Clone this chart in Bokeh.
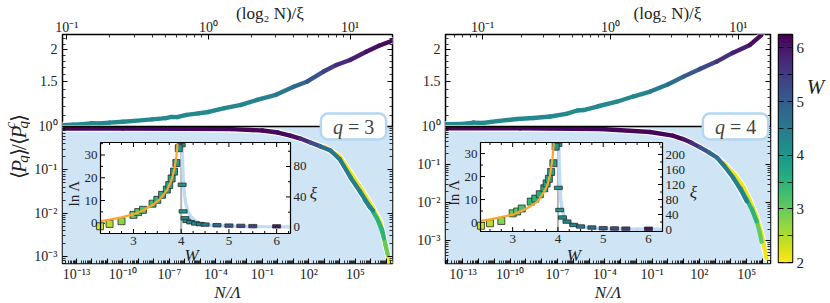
import numpy as np
from bokeh.plotting import figure
from bokeh.models import (Range1d, LinearScale, LogScale, LogAxis, LinearAxis, FixedTicker,
                          CustomJSTickFormatter, Label, ColumnDataSource, LinearColorMapper,
                          BoxAnnotation, Span)
from bokeh.layouts import row
from bokeh.palettes import Viridis256
from bokeh.transform import linear_cmap
from bokeh.embed import file_html
from bokeh.resources import INLINE
from bokeh.core.properties import value

# ======================= DATA =======================
W_MIN, W_MAX = 2.0, 6.25          # colour scale of disorder W
CBAR_TICKS = [2, 3, 4, 5, 6]
W_C = 4.0                          # critical disorder (grey line in insets)

# ---- q = 3 : upper part, x = (log2 N)/xi ----
Q3_TOP_X = [0.093, 0.11, 0.13, 0.15, 0.17, 0.2, 0.25, 0.3, 0.4, 0.5, 0.55, 0.6, 0.7, 0.85,
            1.0, 1.3, 1.7, 2.2, 3.0, 4.0, 5.0, 6.5, 8.0, 10.0, 13.0, 16.0, 20.0]
Q3_TOP_Y = [1.012, 1.016, 1.02, 1.03, 1.028, 1.036, 1.044, 1.052, 1.066, 1.078, 1.09, 1.088, 1.11, 1.125,
            1.14, 1.18, 1.215, 1.27, 1.33, 1.43, 1.5, 1.64, 1.74, 1.82, 1.96, 2.07, 2.17]
Q3_TOP_W = [4.25, 4.25, 4.25, 4.25, 4.25, 4.25, 4.25, 4.25, 4.25, 4.25, 4.25, 4.25, 4.25, 4.25,
            4.25, 4.25, 4.3, 4.35, 4.45, 4.7, 5.0, 5.3, 5.6, 5.8, 6.0, 6.1, 6.2]
# ---- q = 3 : lower part, x = N/Lambda ----
Q3_LOW_X = [1.26e-14, 1e-10, 1e-6, 1e-3, 0.1, 1.0, 6.3, 28.0, 126.0, 560.0, 2.5e3, 1e4, 5e4, 2e5, 8.9e5, 1.4e6]
Q3_LOW_Y = [0.9, 0.895, 0.885, 0.87, 0.809, 0.726, 0.619, 0.528, 0.427, 0.347, 0.279, 0.174,
            0.066, 0.0316, 0.0135, 0.0115]
Q3_LOW_W = [6.2, 6.2, 6.2, 6.2, 6.2, 6.2, 6.15, 6.0, 5.5, 5.0, 4.6, 4.5, 4.45, 4.4, 4.35, 4.3]
Q3_G1_X = [4e5, 9.3e5, 2.5e6, 5.4e6, 7.1e6]
Q3_G1_Y = [0.02, 0.0138, 0.0076, 0.0041, 0.0026]
Q3_G2_X = [3.2e6, 7.1e6, 8.7e6, 1.23e7]
Q3_G2_Y = [0.0063, 0.0026, 0.00186, 0.0011]
Q3_YL_X = [1e3, 1e4, 5.6e4, 2.8e5, 1.26e6, 4e6, 1e7, 1.8e7, 2.5e7]
Q3_YL_Y = [0.339, 0.2, 0.079, 0.033, 0.0138, 0.0063, 0.00158, 0.00065, 0.0004]
EXTRA_W = [3.5, 3.0, 2.1]          # W of the G1, G2, YL curves
# ---- q = 3 : inset ----
Q3_SQ_W = [2.3, 2.5, 2.75, 3.0, 3.1, 3.2, 3.4, 3.5, 3.6, 3.7, 3.75, 3.8, 3.85, 3.9, 3.95]
Q3_SQ_LNL = [-1.3, -0.3, 0.9, 3.7, 4.9, 5.9, 8.6, 10.3, 12.5, 14.8, 16.8, 19.7, 22.7, 26.5, 33.0]
Q3_FIT_L_W = [2.31, 2.5, 2.75, 3.0, 3.2, 3.4, 3.55, 3.7, 3.8, 3.86, 3.9, 3.925]
Q3_FIT_L = [1.0, 1.6, 2.6, 4.0, 5.6, 8.0, 10.5, 14.5, 19.0, 24.0, 29.5, 35.0]
Q3_DASH_W = [4.0, 4.02, 4.04, 4.08, 4.12, 4.2, 4.3, 4.4, 4.5, 4.75, 5.0, 5.25, 5.5, 6.0]
Q3_DASH_XI = [108, 56, 21, 12, 8.5, 6.8, 5.2, 4.3, 3.7, 2.9, 2.4, 2.0, 1.7, 1.4]
Q3_FIT_XI_W = [4.02, 4.03, 4.045, 4.07, 4.1, 4.15, 4.2, 4.3, 4.4, 4.6, 4.8, 5.2, 5.6, 6.29]
Q3_FIT_XI = [110, 85, 60, 42, 30, 20, 14, 8.5, 5.6, 3.2, 2.2, 1.4, 1.0, 0.7]
Q3_XI_TICKS = [0, 40, 80]

# ---- q = 4 : upper part ----
Q4_TOP_X = [0.05, 0.07, 0.085, 0.1, 0.13, 0.186, 0.25, 0.339, 0.45, 0.55, 0.617, 0.8, 1.12, 1.5,
            2.04, 2.8, 3.72, 5.0, 6.76, 9.0, 12.3, 15.1]
Q4_TOP_Y = [1.02, 1.024, 1.036, 1.032, 1.05, 1.07, 1.08, 1.094, 1.12, 1.155, 1.16, 1.2, 1.25, 1.31,
            1.37, 1.46, 1.567, 1.68, 1.794, 1.94, 2.085, 2.28]
Q4_TOP_W = [4.25, 4.25, 4.25, 4.25, 4.25, 4.25, 4.25, 4.25, 4.25, 4.25, 4.25, 4.25, 4.25, 4.25,
            4.35, 4.6, 4.9, 5.2, 5.5, 5.8, 6.0, 6.2]
# ---- q = 4 : lower part ----
Q4_LOW_X = [7.9e-15, 4.5e-10, 5.1e-5, 0.074, 2.0, 9.1, 31.6, 110.0, 400.0, 1.32e3, 4e3, 1.35e4, 4e4, 1.02e5]
Q4_LOW_Y = [0.9, 0.89, 0.86, 0.716, 0.575, 0.468, 0.372, 0.282, 0.209, 0.151, 0.089, 0.0457, 0.0224, 0.0107]
Q4_LOW_W = [6.2, 6.2, 6.2, 6.2, 6.2, 6.15, 5.9, 5.4, 5.0, 4.7, 4.55, 4.45, 4.4, 4.35]
Q4_G1_X = [4e4, 1.02e5, 2.24e5, 4.2e5]
Q4_G1_Y = [0.024, 0.0117, 0.0063, 0.0032]
Q4_G2_X = [2e5, 4.2e5, 6.3e5, 8.7e5]
Q4_G2_Y = [0.0071, 0.0033, 0.00178, 0.00093]
Q4_YL_X = [3.2e3, 2e4, 6.3e4, 1.6e5, 4e5, 8.9e5, 1.8e6]
Q4_YL_Y = [0.112, 0.05, 0.025, 0.0112, 0.0045, 0.0014, 0.00034]
# ---- q = 4 : inset ----
Q4_SQ_W = [2.3, 2.5, 2.75, 3.0, 3.1, 3.2, 3.4, 3.5, 3.6, 3.7, 3.75, 3.8, 3.85, 3.9, 3.95]
Q4_SQ_LNL = [-1.4, -0.3, 0.7, 4.0, 4.8, 6.1, 9.1, 10.4, 12.3, 14.9, 17.0, 19.0, 22.0, 25.8, 33.0]
Q4_FIT_L_W = [2.29, 2.5, 2.75, 3.03, 3.3, 3.55, 3.7, 3.77, 3.83, 3.88, 3.91]
Q4_FIT_L = [0.7, 1.4, 2.4, 3.6, 6.0, 9.1, 13.5, 16.4, 21.0, 28.0, 34.5]
Q4_DASH_W = [4.0, 4.01, 4.04, 4.1, 4.2, 4.35, 4.5, 4.75, 5.0, 5.25, 5.5, 6.0]
Q4_DASH_XI = [226, 111, 52, 32, 21, 12, 8, 5.3, 3.5, 2.8, 2.4, 2.0]
Q4_FIT_XI_W = [4.02, 4.03, 4.045, 4.06, 4.09, 4.13, 4.2, 4.28, 4.4, 4.65, 5.0, 5.5, 6.31]
Q4_FIT_XI = [230, 170, 120, 83, 55, 39, 25, 17, 10, 4.5, 2.0, 1.0, 0.5]
Q4_XI_TICKS = [0, 40, 80, 120, 160, 200]

INSET_W_TICKS = [3, 4, 5, 6]
INSET_LNL_TICKS = [0, 10, 20, 30]
TOP_Y_TICKS = [1.5, 2.0]
TOP_Y_MINOR = [1.1, 1.2, 1.3, 1.4, 1.6, 1.7, 1.8, 1.9, 2.1, 2.2]

# ======================= STYLE / GEOMETRY =======================
FONT = "Liberation Serif"
PALETTE = list(reversed(Viridis256))
BLUE_BG = "#cfe5f6"
BOX_EDGE = "#b3d6f1"
ORANGE = "#fba52c"
FIT_BLUE = "#c0dcf4"
GREY = "#b5b5b5"
TXT = "#222222"

TOTAL_H = 303
TOP_BORDER, TOP_FH, LOW_FH = 33, 92, 137
FH = TOP_FH + LOW_FH
BOT_BORDER = TOTAL_H - TOP_BORDER - FH
TOP_YR = (1.0, 2.29)
YL_W = 30


def cmap(field):
    return linear_cmap(field, PALETTE, W_MIN, W_MAX)


def within(vals, lo, hi):
    return [v for v in vals if lo <= v <= hi]


SUP = ('const m = {"-": "\u207b", "0": "\u2070", "1": "\u00b9", "2": "\u00b2", "3": "\u00b3", '
       '"4": "\u2074", "5": "\u2075", "6": "\u2076", "7": "\u2077", "8": "\u2078", "9": "\u2079"};\n')
POW = 'return "10" + String(e).split("").map(c => m[c]).join("");'


def fmt_pow10(skip=""):
    return CustomJSTickFormatter(code=SUP + "const e = Math.round(Math.log10(tick));\n" + skip + "\n" + POW)


def fmt_blank():
    return CustomJSTickFormatter(code="return '';")


def fmt_plain():
    return CustomJSTickFormatter(code="return String(tick);")


def style_axis(ax, size="14px", standoff=5):
    ax.axis_line_color = None
    ax.major_tick_in = 5
    ax.major_tick_out = 0
    ax.minor_tick_in = 3
    ax.minor_tick_out = 0
    ax.major_tick_line_color = "black"
    ax.minor_tick_line_color = "black"
    ax.major_tick_line_width = 1
    ax.minor_tick_line_width = 0.8
    ax.major_label_text_font = FONT
    ax.major_label_text_font_size = size
    ax.major_label_text_color = TXT
    ax.major_label_standoff = standoff


def grad_curve(p, xs, ys, ws, width=4.4, **rn):
    src = ColumnDataSource(dict(x0=xs[:-1], y0=ys[:-1], x1=xs[1:], y1=ys[1:],
                                w=[0.5 * (a + b) for a, b in zip(ws[:-1], ws[1:])]))
    p.segment("x0", "y0", "x1", "y1", source=src, line_color=cmap("w"),
              line_width=width, line_cap="round", **rn)


def underlay(p, xs, ys, width=6.8, **rn):
    p.line(xs, ys, line_color="white", line_width=width, line_cap="round", line_join="round", **rn)


def ext_range(lo, hi, a, b, total):
    per = (hi - lo) / (b - a)
    return Range1d(lo - a * per, lo + (total - a) * per)


def decade_ticks(e0, e1):
    return [10.0 ** e for e in range(e0, e1 + 1)]


def minor_log(e0, e1):
    return [k * 10.0 ** e for e in range(e0, e1 + 1) for k in range(2, 10)]


def make_panel(c):
    FW, BL, BR = c["fw"], c["bl"], c["br"]
    lx0, lx1 = c["low_xr"]
    ly0 = c["low_y0"]
    d_low = -np.log10(ly0) / LOW_FH            # decades per pixel, lower (blue) part
    d_up = np.log10(TOP_YR[1]) / TOP_FH        # decades per pixel, upper (white) part
    k = d_low / d_up
    p = figure(x_axis_type="log", y_axis_type="log",
               x_range=Range1d(lx0, lx1), y_range=Range1d(ly0, 10 ** (d_low * TOP_FH)),
               frame_width=FW, frame_height=FH,
               min_border_left=BL, min_border_right=BR, min_border_top=TOP_BORDER,
               min_border_bottom=BOT_BORDER, toolbar_location=None, output_backend="svg")
    p.xgrid.visible = False
    p.ygrid.visible = False
    p.outline_line_color = "black"
    p.outline_line_width = 1.5

    # ---- ranges: upper part and inset ----
    ip = c["inset_px"]
    w0, w1 = c["in_w"]
    l0, l1 = c["in_l"]
    x0, x1 = c["in_xi"]
    p.extra_x_ranges = {"tx": Range1d(*c["top_xr"]),
                        "wx": ext_range(w0, w1, ip["left"], ip["right"], FW)}
    p.extra_x_scales = {"tx": LogScale(), "wx": LinearScale()}
    p.extra_y_ranges = {"up": Range1d(10 ** (-d_up * LOW_FH), TOP_YR[1]),
                        "ly": ext_range(l0, l1, FH - ip["bottom"], FH - ip["top"], FH),
                        "xi": ext_range(x0, x1, FH - ip["bottom"], FH - ip["top"], FH)}
    p.extra_y_scales = {"up": LogScale(), "ly": LinearScale(), "xi": LinearScale()}

    # ---- axes ----
    p.xaxis[0].ticker = FixedTicker(ticks=within(decade_ticks(-16, 9), lx0, lx1),
                                    minor_ticks=within(minor_log(-16, 8), lx0, lx1))
    p.xaxis[0].formatter = fmt_pow10("if ((((e % 3) + 3) % 3) != 2) return '';")
    style_axis(p.xaxis[0], standoff=3)
    p.xaxis[0].axis_label = "N/\u039b"
    p.xaxis[0].axis_label_text_font = FONT
    p.xaxis[0].axis_label_text_font_size = "17px"
    p.xaxis[0].axis_label_text_font_style = "italic"
    p.xaxis[0].axis_label_text_color = TXT
    p.xaxis[0].axis_label_standoff = -2

    up_major = [10 ** (np.log10(v) * k) for v in TOP_Y_TICKS]
    up_minor = [10 ** (np.log10(v) * k) for v in TOP_Y_MINOR]
    ymaj = within(decade_ticks(-5, 0), ly0, 1.0) + up_major
    ymin = within(minor_log(-5, -1), ly0, 1.0) + up_minor
    p.yaxis[0].ticker = FixedTicker(ticks=ymaj, minor_ticks=ymin)
    p.yaxis[0].formatter = CustomJSTickFormatter(
        args=dict(k=float(k)),
        code=SUP + "if (tick > 1.0001) { const v = Math.pow(10, Math.log10(tick) / k);"
                   " return String(Math.round(v * 10) / 10); }\n"
                   "const e = Math.round(Math.log10(tick));\n" + POW)
    style_axis(p.yaxis[0])
    ra = LogAxis(ticker=FixedTicker(ticks=ymaj, minor_ticks=ymin), formatter=fmt_blank())
    style_axis(ra, standoff=0)
    p.add_layout(ra, "right")

    tlo, thi = c["top_xr"]
    ta = LogAxis(x_range_name="tx",
                 ticker=FixedTicker(ticks=within(decade_ticks(-2, 2), tlo, thi),
                                    minor_ticks=within(minor_log(-2, 1), tlo, thi)),
                 formatter=fmt_pow10())
    style_axis(ta, standoff=0)
    ta.axis_label = "\u2003" * c["title_pad"] + "(log\u2082 N)/\u03be"
    ta.axis_label_text_font = FONT
    ta.axis_label_text_font_size = "17px"
    ta.axis_label_text_font_style = "normal"
    ta.axis_label_text_color = TXT
    ta.axis_label_standoff = -6
    p.add_layout(ta, "above")

    # ---- backgrounds ----
    p.add_layout(BoxAnnotation(top=1.0, fill_color=BLUE_BG, fill_alpha=1.0, line_color=None,
                               level="underlay"))

    # ---- upper curve ----
    U = dict(x_range_name="tx", y_range_name="up")
    underlay(p, c["top_x"], c["top_y"], **U)
    grad_curve(p, c["top_x"], c["top_y"], c["top_w"], **U)

    # ---- lower collapsed curves ----
    underlay(p, c["yl_x"], c["yl_y"], 6.2)
    underlay(p, c["low_x"], c["low_y"], 6.6)
    for (xs, ys), w in zip([(c["yl_x"], c["yl_y"]), (c["g2_x"], c["g2_y"]), (c["g1_x"], c["g1_y"])],
                           [EXTRA_W[2], EXTRA_W[1], EXTRA_W[0]]):
        grad_curve(p, xs, ys, [w] * len(xs), 4.2)
    grad_curve(p, c["low_x"], c["low_y"], c["low_w"], 4.4)

    # ---- inset ----
    R = dict(x_range_name="wx", y_range_name="ly")
    RX = dict(x_range_name="wx", y_range_name="xi")
    wpp = (w1 - w0) / (ip["right"] - ip["left"])
    lpp = (l1 - l0) / (ip["bottom"] - ip["top"])

    p.quad(left=[w0], right=[w1], bottom=[l0], top=[l1], fill_color="white", line_color=None, **R)
    p.segment(x0=[W_C], y0=[l0], x1=[W_C], y1=[l1], line_color=GREY, line_width=2, **R)

    wmaj = INSET_W_TICKS
    wmin = [float(v) for v in np.arange(2.25, 6.5, 0.25) if w0 < v < w1 and v not in wmaj]
    for vals, L in [(wmaj, 4.5), (wmin, 2.5)]:
        p.segment(x0=vals, y0=[l0] * len(vals), x1=vals, y1=[l0 + L * lpp] * len(vals),
                  line_color="black", line_width=1, **R)
        p.segment(x0=vals, y0=[l1] * len(vals), x1=vals, y1=[l1 - L * lpp] * len(vals),
                  line_color="black", line_width=1, **R)
    lmin = [v for v in range(-5, 40, 5) if l0 < v < l1 and v not in INSET_LNL_TICKS]
    for vals, L in [(INSET_LNL_TICKS, 4.5), (lmin, 2.5)]:
        p.segment(x0=[w0] * len(vals), y0=vals, x1=[w0 + L * wpp] * len(vals), y1=vals,
                  line_color="black", line_width=1, **R)
    xt = c["xi_ticks"]
    step = xt[1] - xt[0]
    xmin = [v + step / 2 for v in xt if x0 < v + step / 2 < x1]
    for vals, L in [(xt, 4.5), (xmin, 2.5)]:
        p.segment(x0=[w1] * len(vals), y0=vals, x1=[w1 - L * wpp] * len(vals), y1=vals,
                  line_color="black", line_width=1, **RX)

    dsrc = ColumnDataSource(dict(w=c["dash_w"], xi=c["dash_xi"]))
    p.line(c["fxi_w"], c["fxi"], line_color=FIT_BLUE, line_width=3.4, **RX)
    p.rect("w", "xi", width=8, height=3.4, width_units="screen", height_units="screen",
           source=dsrc, fill_color=cmap("w"), line_color="#2b2b2b", line_width=0.8, **RX)
    ssrc = ColumnDataSource(dict(w=c["sq_w"], l=c["sq_l"]))
    p.scatter("w", "l", source=ssrc, marker="square", size=7, fill_color=cmap("w"),
              line_color="#2b2b2b", line_width=0.8, **R)
    p.line(c["fl_w"], c["fl"], line_color=ORANGE, line_width=2.2, **R)
    p.quad(left=[w0], right=[w1], bottom=[l0], top=[l1], fill_color=None,
           line_color="black", line_width=1.2, **R)

    tk = dict(text_font=value(FONT), text_font_size="13px", text_color=TXT)
    p.text(x=wmaj, y=[l0] * len(wmaj), text=[str(v) for v in wmaj], y_offset=3,
           text_align="center", text_baseline="top", **tk, **R)
    p.text(x=[w0] * 4, y=INSET_LNL_TICKS, text=[str(v) for v in INSET_LNL_TICKS], x_offset=-3,
           text_align="right", text_baseline="middle", **tk, **R)
    p.text(x=[w1] * len(xt), y=xt, text=[str(v) for v in xt], x_offset=3,
           text_align="left", text_baseline="middle", **tk, **RX)
    p.text(x=[w0], y=[c["lnl_lab_y"]], text=["ln\u2009\u039b"], x_offset=-19, angle=np.pi / 2,
           text_align="center", text_baseline="bottom", text_font=value(FONT),
           text_font_size="15px", text_color=TXT, **R)
    p.text(x=[w1], y=[c["lnl_lab_y"]], text=["\u03be"], x_offset=c["xi_lab_dx"],
           text_align="center", text_baseline="middle", text_font=value(FONT),
           text_font_style="italic", text_font_size="17px", text_color=TXT, **R)
    p.text(x=[c["w_lab_x"]], y=[l0], text=["W"], y_offset=c["w_lab_dy"],
           text_align="center", text_baseline="middle", text_font=value(FONT),
           text_font_style="italic", text_font_size="17px", text_color=TXT, **R)

    # ---- boundary line and q label ----
    p.add_layout(Span(location=1.0, dimension="width", line_color="black", line_width=1.6))
    qx = c["qx"]
    p.add_layout(Label(x=qx, y=1.0, x_units="screen", y_units="data",
                       text="\u2002q = " + c["qval"] + "\u2002", text_font=FONT, text_font_size="20px",
                       text_color="white", text_align="center", text_baseline="middle",
                       background_fill_color="white", border_line_color=BOX_EDGE,
                       border_line_width=2.5, border_radius=7, padding=2))
    p.add_layout(Label(x=qx - 20.6, y=1.0, x_units="screen", y_units="data", text="q",
                       text_font=FONT, text_font_size="20px", text_font_style="italic",
                       text_color="#444444", text_align="left", text_baseline="middle"))
    p.add_layout(Label(x=qx - 5.6, y=1.0, x_units="screen", y_units="data", text="= " + c["qval"],
                       text_font=FONT, text_font_size="20px",
                       text_color="#444444", text_align="left", text_baseline="middle"))
    return p


Q3 = dict(fw=330, bl=32, br=5, top_xr=(0.0933, 19.95), low_xr=(1.26e-14, 2.5e7), low_y0=6.9e-4,
          top_x=Q3_TOP_X, top_y=Q3_TOP_Y, top_w=Q3_TOP_W,
          low_x=Q3_LOW_X, low_y=Q3_LOW_Y, low_w=Q3_LOW_W,
          g1_x=Q3_G1_X, g1_y=Q3_G1_Y, g2_x=Q3_G2_X, g2_y=Q3_G2_Y, yl_x=Q3_YL_X, yl_y=Q3_YL_Y,
          inset_px=dict(left=38, right=228, top=108, bottom=199),
          in_w=(2.31, 6.29), in_l=(-4.5, 35.5), in_xi=(-8.0, 111.5), xi_ticks=Q3_XI_TICKS,
          sq_w=Q3_SQ_W, sq_l=Q3_SQ_LNL, fl_w=Q3_FIT_L_W, fl=Q3_FIT_L,
          dash_w=Q3_DASH_W, dash_xi=Q3_DASH_XI, fxi_w=Q3_FIT_XI_W, fxi=Q3_FIT_XI,
          lnl_lab_y=13.0, xi_lab_dx=23, w_lab_x=4.22, w_lab_dy=22,
          title_pad=5, qx=291, qval="3")
Q4 = dict(fw=325, bl=48, br=4, top_xr=(0.0513, 17.8), low_xr=(7.9e-15, 3.2e6), low_y0=2.5e-4,
          top_x=Q4_TOP_X, top_y=Q4_TOP_Y, top_w=Q4_TOP_W,
          low_x=Q4_LOW_X, low_y=Q4_LOW_Y, low_w=Q4_LOW_W,
          g1_x=Q4_G1_X, g1_y=Q4_G1_Y, g2_x=Q4_G2_X, g2_y=Q4_G2_Y, yl_x=Q4_YL_X, yl_y=Q4_YL_Y,
          inset_px=dict(left=35, right=217, top=108, bottom=197),
          in_w=(2.29, 6.31), in_l=(-3.9, 34.8), in_xi=(-5.3, 232.0), xi_ticks=Q4_XI_TICKS,
          sq_w=Q4_SQ_W, sq_l=Q4_SQ_LNL, fl_w=Q4_FIT_L_W, fl=Q4_FIT_L,
          dash_w=Q4_DASH_W, dash_xi=Q4_DASH_XI, fxi_w=Q4_FIT_XI_W, fxi=Q4_FIT_XI,
          lnl_lab_y=13.0, xi_lab_dx=31, w_lab_x=4.35, w_lab_dy=24,
          title_pad=7, qx=290, qval="4")

left = make_panel(Q3)
right = make_panel(Q4)

# ---------------- y label ----------------
ylab = figure(width=YL_W, height=TOTAL_H, x_range=Range1d(0, YL_W), y_range=Range1d(0, TOTAL_H),
              min_border=0, x_axis_location=None, y_axis_location=None,
              toolbar_location=None, output_backend="svg")
ylab.grid.visible = False
ylab.outline_line_color = None
pieces = [("\u27e8", 21, "normal", 8.2, 0), ("P", 21, "italic", 13.2, 0), ("q", 15, "italic", 8.6, 4),
          ("\u27e9", 21, "normal", 8.2, 0), ("/", 21, "normal", 7.2, 0), ("\u27e8", 21, "normal", 8.2, 0),
          ("P", 21, "italic", 13.2, 0), ("q", 15, "italic", 0.0, 4), ("c", 15, "italic", 8.6, -9),
          ("\u27e9", 21, "normal", 8.2, 0)]
total_len = sum(pc[3] for pc in pieces)
ypos = 153 - total_len / 2
for txt, sz, st, adv, off in pieces:
    ylab.text(x=[18 + off], y=[ypos], text=[txt], angle=np.pi / 2, text_font=value(FONT),
              text_font_size=f"{sz}px", text_font_style=st, text_color=TXT,
              text_align="left", text_baseline="alphabetic")
    ypos += adv

# ---------------- colour bar ----------------
CB_TOP, CB_H = 34, 228
cb = figure(x_range=Range1d(0, 1), y_range=Range1d(W_MIN, W_MAX), frame_width=14, frame_height=CB_H,
            min_border_left=4, min_border_right=12, min_border_top=CB_TOP,
            min_border_bottom=TOTAL_H - CB_TOP - CB_H, x_axis_location=None, y_axis_location="right",
            toolbar_location=None, output_backend="svg")
cb.grid.visible = False
cb.image(image=[np.linspace(W_MIN, W_MAX, 256).reshape(-1, 1)], x=0, y=W_MIN, dw=1, dh=W_MAX - W_MIN,
         color_mapper=LinearColorMapper(palette=PALETTE, low=W_MIN, high=W_MAX))
cb.outline_line_color = "black"
cb.outline_line_width = 1.5
cminor = [v + 0.5 for v in CBAR_TICKS if v + 0.5 < W_MAX]
cb.yaxis[0].ticker = FixedTicker(ticks=CBAR_TICKS, minor_ticks=cminor)
cb.yaxis[0].formatter = fmt_plain()
style_axis(cb.yaxis[0], size="15px", standoff=4)
cb.yaxis[0].minor_tick_in = 5
la = LinearAxis(ticker=FixedTicker(ticks=CBAR_TICKS, minor_ticks=cminor), formatter=fmt_blank())
style_axis(la, standoff=0)
la.minor_tick_in = 5
cb.add_layout(la, "left")

WF_W = 26
wfig = figure(width=WF_W, height=TOTAL_H, x_range=Range1d(0, WF_W), y_range=Range1d(0, TOTAL_H),
              min_border=0, x_axis_location=None, y_axis_location=None,
              toolbar_location=None, output_backend="svg")
wfig.grid.visible = False
wfig.outline_line_color = None
wfig.text(x=[8], y=[TOTAL_H - 70], text=["W"], text_font=value(FONT), text_font_size="21px",
          text_font_style="italic", text_color=TXT, text_align="center", text_baseline="middle")

layout = row(ylab, left, right, cb, wfig)
open("out.html", "w").write(file_html(layout, INLINE))
